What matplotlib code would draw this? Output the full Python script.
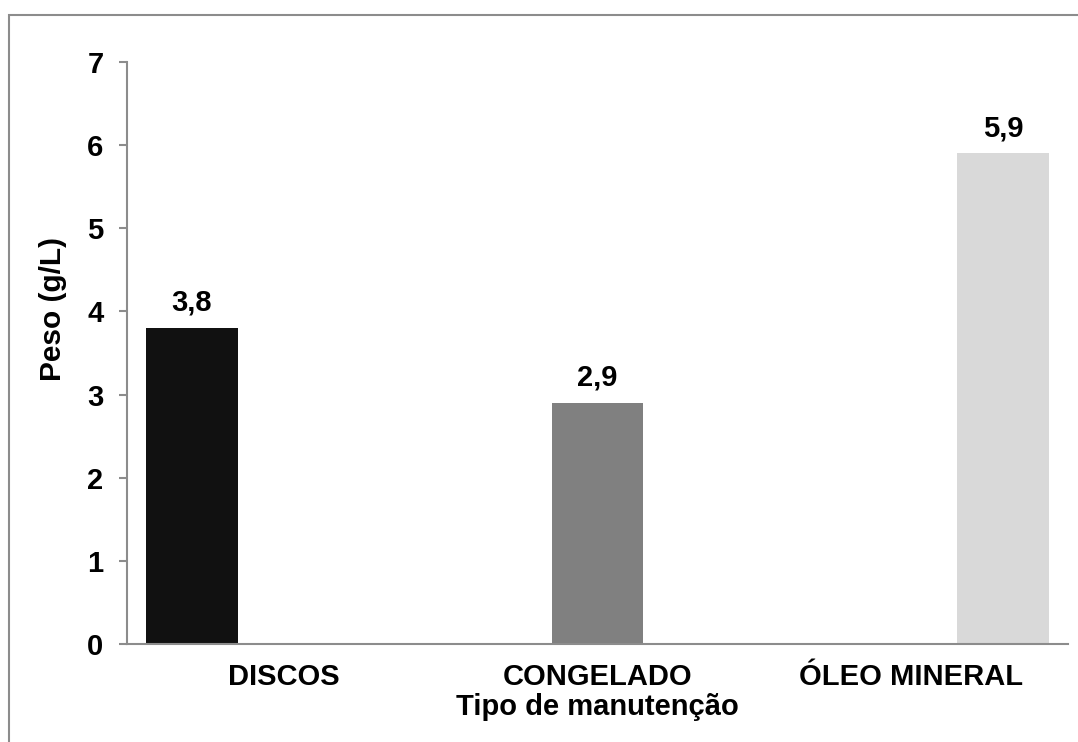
import matplotlib
matplotlib.use("Agg")
import matplotlib.pyplot as plt
from matplotlib.patches import Rectangle

categories = ["DISCOS", "CONGELADO", "ÓLEO MINERAL"]
values = [3.8, 2.9, 5.9]
value_labels = ["3,8", "2,9", "5,9"]
colors = ["#111111", "#808080", "#d9d9d9"]
y_ticks = [0, 1, 2, 3, 4, 5, 6, 7]

plt.rcParams['font.family'] = ['Liberation Sans', 'DejaVu Sans']
plt.rcParams['font.weight'] = 'bold'

fig = plt.figure(figsize=(10.78, 7.42), dpi=100)
ax = fig.add_axes([127/1078, 1-644/742, (1068-127)/1078, (644-62)/742])

w = 0.293
xs = range(len(categories))
for i, (v, c, lab) in enumerate(zip(values, colors, value_labels)):
    x = i + (i - 1) * w
    ax.bar(x, v, width=w, color=c, zorder=2)
    ax.annotate(lab, (x, v), xytext=(0, 8), textcoords="offset points",
                ha="center", va="bottom", fontsize=21, fontweight="bold")

ax.set_xlim(-0.5, 2.5)
ax.set_ylim(0, 7)
ax.set_yticks(y_ticks)
ax.set_yticklabels([str(t) for t in y_ticks])
ax.set_xticks(list(xs))
ax.set_xticklabels(categories)

for s in ["top", "right"]:
    ax.spines[s].set_visible(False)
for s in ["left", "bottom"]:
    ax.spines[s].set_color("#8c8c8c")
    ax.spines[s].set_linewidth(1.5)

ax.tick_params(axis="y", direction="out", length=6, width=1.5, color="#8c8c8c",
               pad=11, labelsize=21)
ax.tick_params(axis="x", length=0, pad=14, labelsize=21)
for t in ax.get_xticklabels() + ax.get_yticklabels():
    t.set_fontweight("bold")

ax.set_ylabel("Peso (g/L)", fontsize=21.5, fontweight="bold", labelpad=14)
ax.yaxis.set_label_coords(-0.064, 0.576)
ax.set_xlabel("Tipo de manutenção", fontsize=21, fontweight="bold", labelpad=1)

fig.patches.append(Rectangle((9/1078, -0.1), 1.2, 1.1 - 15/742, transform=fig.transFigure,
                             fill=False, edgecolor="#8c8c8c", linewidth=1.5))

fig.savefig("out.png", dpi=100)
